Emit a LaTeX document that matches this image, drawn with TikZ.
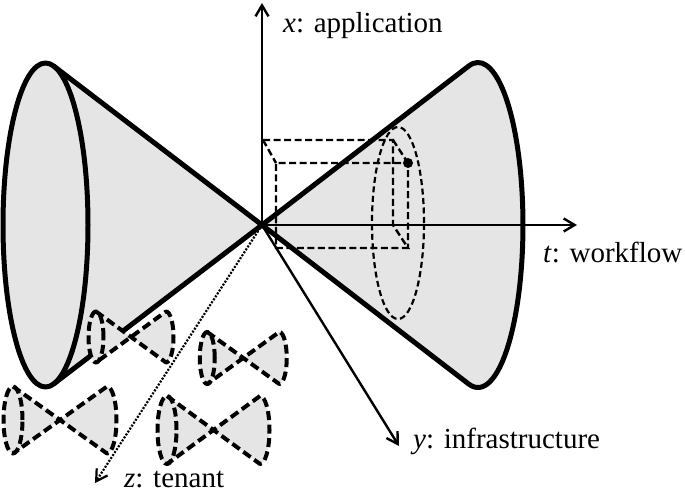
\documentclass[tikz,border=0pt]{standalone}
\usepackage{fontspec}
\setmainfont{Liberation Serif}
\usetikzlibrary{arrows.meta}

\begin{document}
\begin{tikzpicture}[x=1pt, y=1pt,
  conefill/.style={fill=gray!20},
  cone/.style ={draw, line width=5pt, line join=round},
  axis/.style ={draw, line width=2.4pt, -{Straight Barb[length=11pt, width=13pt]}},
  zaxis/.style={axis, line width=2.2pt, dash pattern=on 2pt off 1.5pt},
  box/.style  ={draw, line width=2.4pt, dash pattern=on 7pt off 3.5pt},
  slice/.style={draw, line width=2.2pt, dash pattern=on 6pt off 3.5pt},
  tie/.style  ={draw, line width=4pt, dash pattern=on 9pt off 4.5pt, line join=round},
  lbl/.style  ={anchor=base west, inner sep=0pt, font=\fontsize{29}{33}\selectfont},
]
\useasboundingbox (0,0) rectangle (685,495);

% origin and axis ends
\coordinate (O)  at (262,270);
\coordinate (xe) at (262,492);
\coordinate (te) at (577,270);
\coordinate (ye) at (399,49);
\coordinate (ze) at (95,12);

% big cones
\coordinate (CL)  at (45.5,270);
\coordinate (LT)  at (53.84,428.8);
\coordinate (LB)  at (53.84,111.2);
\coordinate (CR)  at (478,270);
\coordinate (RT)  at (468.6,428.9);
\coordinate (RB)  at (468.6,111.1);

\fill[conefill] (O) -- (LT) -- (LB) -- cycle;
\fill[conefill] (CL) ellipse [x radius=42.5, y radius=162];
\fill[conefill] (O) -- (RT) arc [start angle=102.02, end angle=-102.02,
                 x radius=45, y radius=162.5] -- cycle;

% cross-section in the right cone
\draw[slice] (398,272) ellipse [x radius=26, y radius=96];

% box
\coordinate (A) at (263,355);
\coordinate (B) at (393,355);
\coordinate (C) at (276,332);
\coordinate (D) at (408,332);
\coordinate (E) at (393,270);
\coordinate (F) at (408,247);
\coordinate (G) at (276,247);
\draw[box] (A) -- (B) -- (E) -- (F) -- (G) -- (C) -- (D) -- (F);
\draw[box] (A) -- (C);
\draw[box] (B) -- (D);
\fill (D) circle (5);

% axes
\draw[axis] (O) -- (xe);
\draw[axis] (O) -- (te);
\draw[axis] (O) -- (ye);

% cone outlines
\draw[cone] (CL) ellipse [x radius=42.5, y radius=162];
\draw[cone] (LT) -- (O) -- (LB);
\draw[cone] (O) -- (RT) arc [start angle=102.02, end angle=-102.02,
             x radius=45, y radius=162.5] -- (O);

% small cones
\foreach \cx/\cy/\L/\ry/\rx in {131/158/35/25.5/7.5, 243.25/137/36/26/7.5,
                                60/75/47/33.5/9.5, 213.5/65/46.5/34/9.5}{
  \fill[conefill] (\cx-\L,\cy+\ry) -- (\cx+\L,\cy-\ry)
      arc [start angle=-90, end angle=90, x radius=\rx, y radius=\ry]
      -- (\cx-\L,\cy-\ry) -- cycle;
  \fill[conefill] (\cx-\L,\cy) ellipse [x radius=\rx, y radius=\ry];
  \draw[tie] (\cx-\L,\cy) ellipse [x radius=\rx, y radius=\ry];
  \draw[tie] (\cx-\L,\cy+\ry) -- (\cx+\L,\cy-\ry)
      arc [start angle=-90, end angle=90, x radius=\rx, y radius=\ry]
      -- (\cx-\L,\cy-\ry);
}

\draw[zaxis] (O) -- (ze);

% labels
\node[lbl] (lblx) at (283,462) {\textit{x}: application};
\node[lbl] (lblt) at (543,232) {\textit{t}: workflow};
\node[lbl] (lbly) at (413,46)  {\textit{y}: infrastructure};
\node[lbl] (lblz) at (124,7)   {\textit{z}: tenant};
\end{tikzpicture}
\end{document}
